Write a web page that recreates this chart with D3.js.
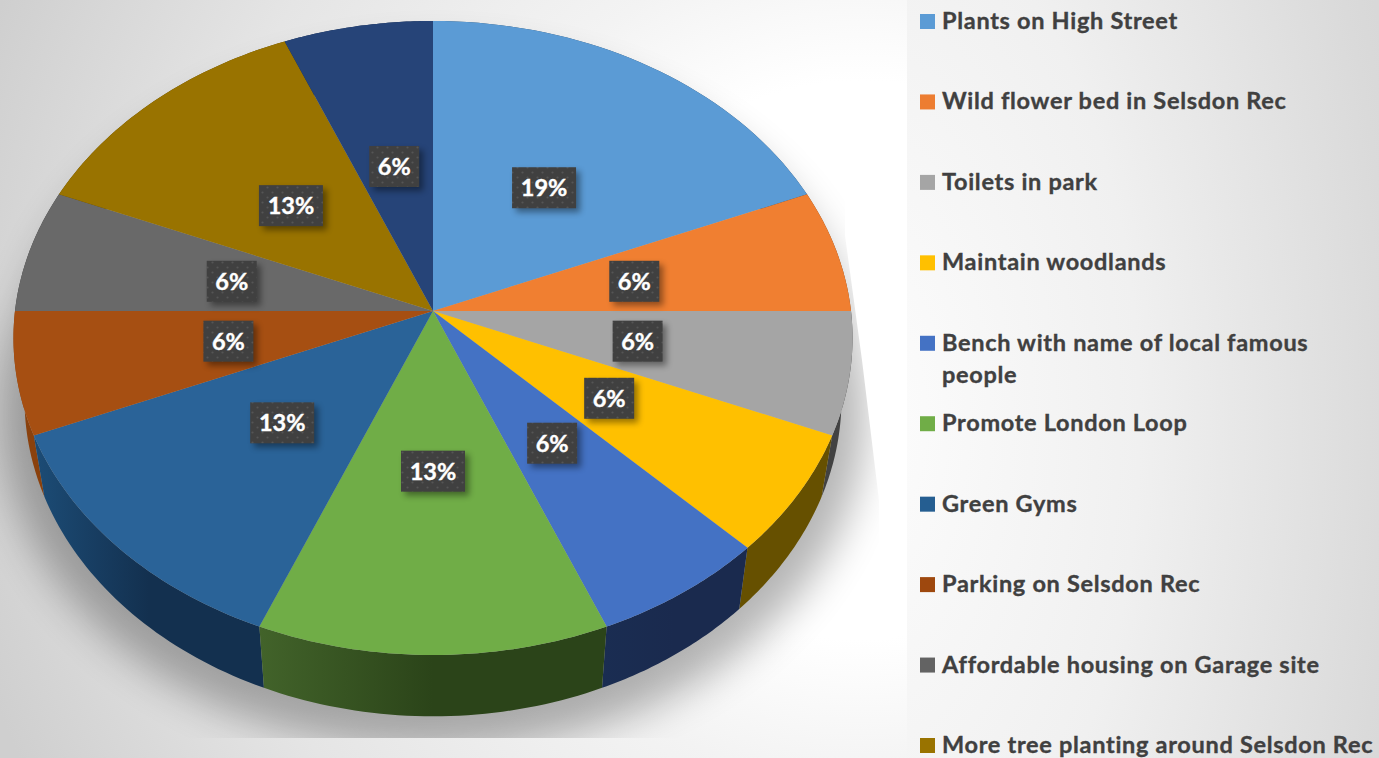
<!DOCTYPE html>
<html><head><meta charset="utf-8">
<script src="https://cdn.jsdelivr.net/npm/d3@7"></script>
<style>html,body{margin:0;padding:0;overflow:hidden;background:#fff}svg{display:block}text{font-family:Lato,sans-serif;font-weight:700}</style>
</head><body><svg id="c" width="1379" height="758"></svg>
<script>
const legendLines=[["Plants on High Street"],["Wild flower bed in Selsdon Rec"],["Toilets in park"],["Maintain woodlands"],["Bench with name of local famous","people"],["Promote London Loop"],["Green Gyms"],["Parking on Selsdon Rec"],["Affordable housing on Garage site"],["More tree planting around Selsdon Rec"]];
const values=[3,1,1,1,1,2,2,1,1,2,1];
const percentLabels=["19%","6%","6%","6%","6%","13%","13%","6%","6%","13%","6%"];
const topColors=["#5b9bd5","#f07f31","#a5a5a5","#ffc000","#4472c4","#70ad47","#2a6398","#a64f12","#696969","#997300","#264478"];
const legendColors=["#5b9bd5","#ed7d31","#a5a5a5","#ffc000","#4472c4","#70ad47","#255e91","#9e480e","#636363","#997300"];
const sideStart=["#2e4e6b","#773f19","#424242","#665000","#1a2d52","#42632a","#1c4c76","#8a410d","#3a3a3a","#5c4500","#16294a"];
const sideEnd=["#2e4e6b","#773f19","#424242","#665000","#1a2a4e","#2b4419","#13304f","#8a410d","#3a3a3a","#5c4500","#16294a"];
const svg=d3.select("#c");
const W=1379,H=758,panelX=907;
const defs=svg.append("defs");
function radial(id,stops,cx,cy,r,sy){const g=defs.append("radialGradient").attr("id",id).attr("gradientUnits","userSpaceOnUse").attr("cx",cx).attr("cy",cy).attr("r",r);
 if(sy)g.attr("gradientTransform",`translate(${cx},${cy}) scale(1,${sy}) translate(${-cx},${-cy})`);
 stops.forEach(s=>g.append("stop").attr("offset",s[0]).attr("stop-color",s[1]));}
radial("bg",[[0,"#ffffff"],[.3,"#ffffff"],[.45,"#f3f3f3"],[.72,"#e5e5e5"],[1,"#cfcfcf"]],860,360,930);
radial("panel",[[0,"#fdfdfd"],[.5,"#f0f0f0"],[.95,"#dadada"],[1,"#d8d8d8"]],860,420,560,1.9);
svg.append("rect").attr("width",panelX).attr("height",H).attr("fill","url(#bg)");
svg.append("rect").attr("x",panelX).attr("width",W-panelX).attr("height",H).attr("fill","url(#panel)");
const f=defs.append("filter").attr("id","blur").attr("filterUnits","userSpaceOnUse").attr("x",-100).attr("y",-100).attr("width",1200).attr("height",1000);
f.append("feGaussianBlur").attr("stdDeviation",21);
const fs=defs.append("filter").attr("id","lblShadow").attr("x","-30%").attr("y","-30%").attr("width","170%").attr("height","170%");
fs.append("feGaussianBlur").attr("stdDeviation",3);
const pat=defs.append("pattern").attr("id","dots").attr("patternUnits","userSpaceOnUse").attr("width",10).attr("height",10);
pat.append("rect").attr("width",10).attr("height",10).attr("fill","#404040");
[[2.5,2.5],[7.5,7.5]].forEach(c=>pat.append("circle").attr("cx",c[0]).attr("cy",c[1]).attr("r",1.1).attr("fill","#555555"));
const clip=defs.append("clipPath").attr("id","shadowClip");
clip.append("path").attr("d",d3.line()([[0,0],[845,0],[845,235],[862,360],[879,500],[879,738],[0,738]])+"Z");

const pie=d3.pie().sort(null).value(d=>d)(values);
const P=.0851;
function top3d(t,k=1){const u=k*Math.sin(t),v=k*Math.cos(t),w=1+P*v;return [433+418*u/w,311-314.7*v/w];}
function bot3d(t){const u=Math.sin(t),v=Math.cos(t),w=1+P*v;return [433+407*u/w,372-315*v/w];}
const line=d3.line();
function samples(a,b){return d3.range(0,41).map(i=>a+(b-a)*i/40);}
const circle=samples(0,2*Math.PI);
const sg=svg.append("g").attr("clip-path","url(#shadowClip)").append("g").attr("filter","url(#blur)").attr("opacity",.29);
sg.append("path").attr("d",line(circle.map(t=>{const p=bot3d(t);return [433+(p[0]-433)*1.06,372+(p[1]-372)*1.06+14];}))+"Z");
sg.append("path").attr("d",line(circle.map(t=>{const p=top3d(t);return [p[0]+4,p[1]+30];}))+"Z");

const g=svg.append("g");
const order=pie.map((d,i)=>i).sort((a,b)=>Math.cos((pie[b].startAngle+pie[b].endAngle)/2)-Math.cos((pie[a].startAngle+pie[a].endAngle)/2));
order.forEach(i=>{const d=pie[i],ts=samples(d.startAngle,d.endAngle);
 const lg=defs.append("linearGradient").attr("id","wall"+i);
 lg.append("stop").attr("offset",0).attr("stop-color",sideStart[i]);
 lg.append("stop").attr("offset",.5).attr("stop-color",sideEnd[i]);
 g.append("path").attr("d",line(ts.map(t=>top3d(t)).concat(ts.slice().reverse().map(bot3d)))+"Z").attr("fill","url(#wall"+i+")");});
pie.forEach((d,i)=>{const ts=samples(d.startAngle,d.endAngle);
 g.append("path").attr("d",line([[433,311]].concat(ts.map(t=>top3d(t))))+"Z").attr("fill",topColors[i]);});

const lab=svg.append("g");
pie.forEach((d,i)=>{const c=top3d((d.startAngle+d.endAngle)/2,.495);
 const bw=percentLabels[i].length>2?64:50,bh=41,x=c[0]-bw/2,y=311+(c[1]-311)*.985-bh/2;
 lab.append("rect").attr("x",x+4).attr("y",y+4).attr("width",bw).attr("height",bh).attr("fill","#000").attr("opacity",.4).attr("filter","url(#lblShadow)");
 lab.append("rect").attr("x",x).attr("y",y).attr("width",bw).attr("height",bh).attr("fill","url(#dots)");
 lab.append("text").attr("x",x+bw/2).attr("y",y+bh/2+8.5).attr("text-anchor","middle").attr("font-size",23.5).attr("fill","#fff").attr("stroke","#fff").attr("stroke-width",.4).text(percentLabels[i]);
});

const legendY=d3.scaleLinear().domain([0,9]).range([21.5,745.5]);
const leg=svg.append("g");
legendLines.forEach((ls,i)=>{const y=legendY(i);
 leg.append("rect").attr("x",920).attr("y",y-7.5).attr("width",15).attr("height",15).attr("fill",legendColors[i]);
 ls.forEach((s,j)=>leg.append("text").attr("x",942).attr("y",y+7.5+j*32).attr("font-size",23.5).attr("letter-spacing",.7).attr("fill","#404040").attr("stroke","#404040").attr("stroke-width",.35).text(s));
});
</script></body></html>
